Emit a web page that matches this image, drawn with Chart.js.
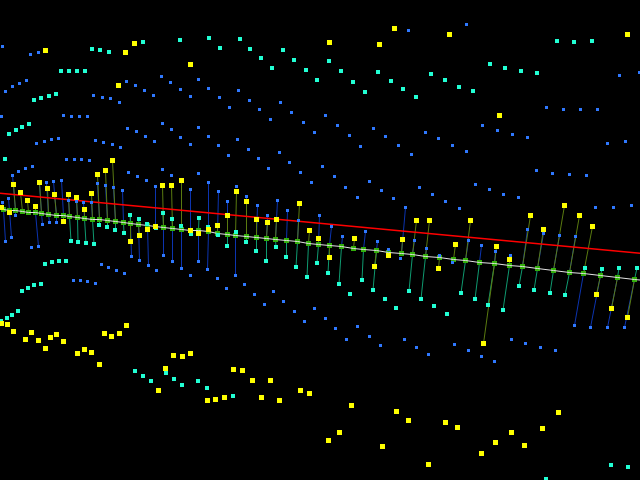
<!DOCTYPE html>
<html>
<head>
<meta charset="utf-8">
<title>3D stem scatter</title>
<style>
html, body { margin: 0; padding: 0; background: #000; }
canvas { display: block; background: #000; }
</style>
<script src="https://cdn.jsdelivr.net/npm/chart.js@4"></script>
</head>
<body>
<canvas id="chart" width="640" height="480"></canvas>
<script>
// values, [x, y]
var yellowPoints = [
    [45.5,50.5],[134.5,43.5],[125.5,52.5],[190.5,64.5],[118.5,85.5],[329.5,42.5],[379.5,44.5],[394.5,28.5],[449.5,34.5],[499.5,115.5],[627.5,34.5],
    [112.5,160.5],[105.5,170.5],[97.5,174.5],[13.5,184.5],[39.5,182.5],[47.5,188.5],[54.5,194.5],[20.5,192.5],[27.5,200.5],[35.5,206.5],[1.5,207.5],[9.5,212.5],
    [63.5,221.5],[68.5,194.5],[76.5,197.5],[91.5,193.5],[84.5,209.5],[162.5,185.5],[171.5,185.5],[181.5,180.5],[130.5,241.5],[139.5,235.5],[147.5,229.5],[155.5,226.5],
    [190.5,230.5],[198.5,233.5],[208.5,229.5],[236.5,191.5],[246.5,201.5],[227.5,215.5],[217.5,225.5],[256.5,219.5],[267.5,222.5],[276.5,219.5],[299.5,203.5],[309.5,230.5],
    [318.5,238.5],[329.5,257.5],[354.5,238.5],[374.5,266.5],[388.5,255.5],[402.5,239.5],[416.5,220.5],[429.5,220.5],[470.5,220.5],[455.5,244.5],[438.5,268.5],[496.5,246.5],
    [509.5,259.5],[530.5,215.5],[543.5,229.5],[564.5,205.5],[579.5,215.5],[592.5,226.5],[596.5,294.5],[611.5,308.5],[627.5,317.5],[483.5,343.5],
    [1.5,323.5],[7.5,324.5],[13.5,331.5],[25.5,339.5],[31.5,332.5],[38.5,340.5],[45.5,348.5],[50.5,337.5],[56.5,334.5],[63.5,341.5],[77.5,353.5],[84.5,349.5],[91.5,352.5],
    [99.5,364.5],[104.5,333.5],[111.5,336.5],[119.5,333.5],[126.5,325.5],[173.5,355.5],[182.5,356.5],[190.5,353.5],[165.5,368.5],[158.5,390.5],[207.5,400.5],[215.5,399.5],
    [224.5,397.5],[233.5,369.5],[242.5,370.5],[252.5,380.5],[270.5,380.5],[261.5,397.5],[279.5,400.5],[300.5,390.5],[309.5,393.5],[351.5,405.5],[396.5,411.5],[408.5,420.5],
    [445.5,422.5],[457.5,427.5],[339.5,432.5],[328.5,440.5],[382.5,446.5],[428.5,464.5],[481.5,453.5],[495.5,442.5],[524.5,445.5],[511.5,432.5],[542.5,428.5],[558.5,412.5]
];
var cyanPoints = [
    [92,49],[100,50],[109,52],[143,42],[180,40],[209,38],[220,48],[240,39],[250,49],[261,58],[272,68],[283,50],[294,60],[306,70],[317,80],[61,71],[69,71],[77,71],[85,71],
    [34,100],[41,98],[49,96],[56,94],[9,134],[16,130],[22,127],[29,124],[5,159],[329,61],[341,71],[353,82],[365,92],[378,72],[391,81],[403,89],[416,97],[431,74],[445,80],
    [459,87],[473,91],[490,64],[505,68],[521,71],[537,73],[557,41],[574,42],[592,41],
    [130,215],[139,219],[147,224],[156,228],[163,213],[172,219],[181,226],[191,234],[199,218],[208,227],[71,241],[78,242],[86,243],[94,244],[99,225],[107,227],[115,230],[124,233],
    [45,264],[52,262],[59,261],[66,261],[218,235],[236,232],[227,246],[246,242],[256,251],[266,261],[276,247],[286,257],[296,267],[307,277],[317,263],[328,273],[339,284],[350,294],
    [362,280],[373,290],[385,299],[409,291],[421,299],[461,293],[475,299],[488,305],[503,310],[519,286],[534,290],[550,293],[565,295],[585,268],[602,269],[619,268],[637,268],
    [434,306],[447,314],[396,308],[22,291],[28,288],[34,285],[41,284],[18,311],[12,315],[7,318],[1,321],[135,371],[143,376],[151,381],[166,373],[174,379],[182,385],[198,381],
    [207,388],[233,396],[611,465],[628,467],[546,479]
];
var bluePoints = [
    [2.5,46.5],[30.5,54.5],[38.5,52.5],[5.5,91.5],[12.5,86.5],[19.5,83.5],[26.5,80.5],[93.5,95.5],[102.5,97.5],[110.5,98.5],[119.5,102.5],[126.5,81.5],[135.5,85.5],[144.5,90.5],
    [153.5,95.5],[161.5,76.5],[170.5,82.5],[180.5,89.5],[190.5,96.5],[198.5,79.5],[208.5,88.5],[219.5,97.5],[229.5,107.5],[238.5,90.5],[249.5,100.5],[259.5,109.5],[270.5,119.5],
    [280.5,102.5],[291.5,112.5],[303.5,122.5],[314.5,132.5],[1.5,116.5],[63.5,115.5],[71.5,116.5],[79.5,116.5],[87.5,116.5],[127.5,128.5],[136.5,131.5],[145.5,136.5],[154.5,141.5],
    [162.5,123.5],[171.5,129.5],[180.5,137.5],[190.5,144.5],[198.5,127.5],[208.5,136.5],[218.5,145.5],[228.5,155.5],[237.5,139.5],[248.5,149.5],[258.5,158.5],[279.5,152.5],
    [36.5,143.5],[44.5,141.5],[51.5,139.5],[58.5,138.5],[95.5,140.5],[103.5,142.5],[112.5,144.5],[120.5,147.5],[66.5,159.5],[74.5,159.5],[81.5,159.5],[89.5,160.5],
    [408.5,30.5],[466.5,24.5],[619.5,75.5],[639.5,72.5],[325.5,115.5],[337.5,125.5],[349.5,135.5],[360.5,146.5],[373.5,128.5],[385.5,136.5],[398.5,145.5],[411.5,154.5],[425.5,132.5],
    [438.5,138.5],[452.5,145.5],[466.5,151.5],[482.5,125.5],[497.5,130.5],[512.5,134.5],[527.5,137.5],[546.5,107.5],[563.5,109.5],[580.5,109.5],[597.5,109.5],[607.5,143.5],[625.5,141.5],
    [32.5,166.5],[25.5,168.5],[18.5,171.5],[12.5,175.5],[8.5,198.5],[2.5,202.5],[15.5,215.5],[5.5,241.5],[11.5,237.5],[31.5,247.5],[38.5,246.5],[42.5,224.5],[49.5,222.5],[56.5,222.5],
    [39.5,183.5],[46.5,182.5],[53.5,181.5],[61.5,180.5],[68.5,200.5],[76.5,201.5],[83.5,202.5],[91.5,202.5],[97.5,183.5],[105.5,185.5],[113.5,187.5],[122.5,190.5],[128.5,172.5],[137.5,176.5],
    [146.5,180.5],[155.5,186.5],[162.5,169.5],[171.5,175.5],[181.5,180.5],[190.5,189.5],[198.5,173.5],[208.5,182.5],[131.5,256.5],[139.5,260.5],[148.5,265.5],[156.5,270.5],[163.5,255.5],
    [172.5,261.5],[181.5,268.5],[190.5,275.5],[198.5,261.5],[207.5,269.5],[101.5,264.5],[108.5,267.5],[116.5,270.5],[124.5,273.5],[73.5,280.5],[80.5,280.5],[87.5,281.5],[95.5,283.5],
    [218.5,191.5],[227.5,201.5],[236.5,186.5],[246.5,196.5],[257.5,205.5],[267.5,215.5],[277.5,200.5],[287.5,210.5],[298.5,220.5],[319.5,215.5],[331.5,226.5],[342.5,236.5],[365.5,231.5],
    [377.5,241.5],[388.5,249.5],[400.5,258.5],[405.5,207.5],[414.5,240.5],[426.5,248.5],[268.5,168.5],[289.5,162.5],[300.5,172.5],[311.5,182.5],[322.5,166.5],[334.5,176.5],[345.5,187.5],
    [357.5,197.5],[369.5,181.5],[381.5,190.5],[393.5,198.5],[419.5,187.5],[217.5,278.5],[226.5,288.5],[235.5,275.5],[244.5,284.5],[254.5,294.5],[273.5,291.5],[264.5,304.5],[283.5,301.5],
    [294.5,311.5],[304.5,321.5],[314.5,308.5],[432.5,194.5],[445.5,201.5],[459.5,208.5],[475.5,184.5],[489.5,189.5],[503.5,194.5],[518.5,197.5],[536.5,170.5],[552.5,173.5],[569.5,174.5],
    [586.5,175.5],[595.5,207.5],[613.5,207.5],[631.5,205.5],[439.5,255.5],[452.5,262.5],[468.5,240.5],[481.5,245.5],[495.5,251.5],[510.5,255.5],[527.5,229.5],[543.5,233.5],[559.5,235.5],
    [575.5,236.5],[574.5,325.5],[590.5,327.5],[607.5,327.5],[624.5,327.5],[511.5,339.5],[525.5,343.5],[540.5,347.5],[555.5,350.5],[325.5,318.5],[335.5,328.5],[346.5,339.5],[357.5,326.5],
    [369.5,336.5],[380.5,345.5],[404.5,339.5],[416.5,347.5],[428.5,354.5],[454.5,344.5],[468.5,350.5],[481.5,356.5],[494.5,361.5]
];

// green squares along the white line
var baseX = [3.5,9.5,15.5,22.5,28.5,35.5,41.5,48.5,56.5,63.5,69.5,77.5,84.5,92.5,99.5,107.5,115.5,123.5,130.5,138.5,147.5,155.5,163.5,172.5,181.5,190.5,198.5,208.5,
    217.5,227.5,235.5,246.5,256.5,266.5,275.5,286.5,297.5,308.5,318.5,329.5,341.5,353.5,363.5,376.5,388.5,401.5,412.5,425.5,439.5,453.5,465.5,479.5,494.5,509.5,522.5,537.5,553.5,569.5,583.5,600.5,617.5,634.5];
var baseY = [209.5,210.5,210.5,211.5,212.5,212.5,213.5,214.5,215.5,215.5,216.5,217.5,218.5,219.5,219.5,220.5,221.5,222.5,223.5,224.5,225.5,226.5,227.5,228.5,229.5,230.5,230.5,231.5,
    233.5,234.5,235.5,236.5,237.5,238.5,239.5,240.5,241.5,243.5,244.5,245.5,246.5,248.5,249.5,250.5,252.5,253.5,254.5,256.5,257.5,259.5,260.5,262.5,263.5,265.5,266.5,268.5,270.5,272.5,273.5,275.5,277.5,279.5];

var whiteEnds = [[0,209],[640,280]];
var redX = [0,213,426,640];
var redY = [193.3,213.3,233.3,253.3];

// stems: marker x, marker y, x of the green square they hang from
var yellowStems = [
    [1.5,207.5,3.5],[9.5,212.5,9.5],[13.5,184.5,15.5],[20.5,192.5,22.5],[27.5,200.5,28.5],[35.5,206.5,35.5],[39.5,182.5,41.5],[47.5,188.5,48.5],[54.5,194.5,56.5],[63.5,221.5,63.5],
    [68.5,194.5,69.5],[76.5,197.5,77.5],[84.5,209.5,84.5],[91.5,193.5,92.5],[97.5,174.5,99.5],[105.5,170.5,107.5],[112.5,160.5,115.5],[130.5,241.5,130.5],[139.5,235.5,138.5],[147.5,229.5,147.5],
    [155.5,226.5,155.5],[162.5,185.5,163.5],[171.5,185.5,172.5],[181.5,180.5,181.5],[190.5,230.5,190.5],[198.5,233.5,198.5],[208.5,229.5,208.5],[217.5,225.5,217.5],[227.5,215.5,227.5],
    [236.5,191.5,235.5],[246.5,201.5,246.5],[256.5,219.5,256.5],[267.5,222.5,266.5],[276.5,219.5,275.5],[299.5,203.5,297.5],[309.5,230.5,308.5],[318.5,238.5,318.5],[329.5,257.5,329.5],
    [354.5,238.5,353.5],[374.5,266.5,376.5],[388.5,255.5,388.5],[402.5,239.5,401.5],[416.5,220.5,412.5],[429.5,220.5,425.5],[438.5,268.5,439.5],[455.5,244.5,453.5],[470.5,220.5,465.5],
    [483.5,343.5,494.5],[496.5,246.5,494.5],[509.5,259.5,509.5],[530.5,215.5,522.5],[543.5,229.5,537.5],[564.5,205.5,553.5],[579.5,215.5,569.5],[592.5,226.5,583.5],[596.5,294.5,600.5],
    [611.5,308.5,617.5],[627.5,317.5,634.5]
];
var cyanStems = [
    [71,241,69.5],[78,242,77.5],[86,243,84.5],[94,244,92.5],[99,225,99.5],[107,227,107.5],[115,230,115.5],[124,233,123.5],[130,215,130.5],[139,219,138.5],[147,224,147.5],[156,228,155.5],
    [163,213,163.5],[172,219,172.5],[181,226,181.5],[191,234,190.5],[199,218,198.5],[208,227,208.5],[218,235,217.5],[227,246,227.5],[236,232,235.5],[246,242,246.5],[256,251,256.5],[266,261,266.5],
    [276,247,275.5],[286,257,286.5],[296,267,297.5],[307,277,308.5],[317,263,318.5],[328,273,329.5],[339,284,341.5],[362,280,363.5],[373,290,376.5],[409,291,412.5],[421,299,425.5],[461,293,465.5],
    [475,299,479.5],[488,305,494.5],[503,310,509.5],[519,286,522.5],[534,290,537.5],[550,293,553.5],[565,295,569.5],[585,268,583.5],[602,269,600.5],[619,268,617.5],[637,268,634.5]
];
var blueStems = [
    [2.5,202.5,3.5],[8.5,198.5,9.5],[12.5,175.5,15.5],[5.5,241.5,3.5],[11.5,237.5,9.5],[15.5,215.5,15.5],[38.5,246.5,35.5],[42.5,224.5,41.5],[49.5,222.5,48.5],[56.5,222.5,56.5],[39.5,183.5,41.5],
    [46.5,182.5,48.5],[53.5,181.5,56.5],[61.5,180.5,63.5],[68.5,200.5,69.5],[76.5,201.5,77.5],[83.5,202.5,84.5],[91.5,202.5,92.5],[97.5,183.5,99.5],[105.5,185.5,107.5],[113.5,187.5,115.5],
    [122.5,190.5,123.5],[155.5,186.5,155.5],[190.5,189.5,190.5],[208.5,182.5,208.5],[131.5,256.5,130.5],[139.5,260.5,138.5],[148.5,265.5,147.5],[163.5,255.5,163.5],[172.5,261.5,172.5],
    [181.5,268.5,181.5],[198.5,261.5,198.5],[207.5,269.5,208.5],[218.5,191.5,217.5],[227.5,201.5,227.5],[235.5,275.5,235.5],[246.5,196.5,246.5],[257.5,205.5,256.5],[267.5,215.5,266.5],
    [277.5,200.5,275.5],[287.5,210.5,286.5],[298.5,220.5,297.5],[319.5,215.5,318.5],[331.5,226.5,329.5],[342.5,236.5,341.5],[365.5,231.5,363.5],[377.5,241.5,376.5],[405.5,207.5,401.5],
    [414.5,240.5,412.5],[426.5,248.5,425.5],[468.5,240.5,465.5],[481.5,245.5,479.5],[495.5,251.5,494.5],[510.5,255.5,509.5],[527.5,229.5,522.5],[543.5,233.5,537.5],[559.5,235.5,553.5],
    [575.5,236.5,569.5],[574.5,325.5,583.5],[590.5,327.5,600.5],[607.5,327.5,617.5],[624.5,327.5,634.5]
];

function toXY(list) {
    return list.map(function (p) { return { x: p[0], y: p[1] }; });
}

// each stem is marker -> base, a null y breaks the line between stems
function stemLine(list) {
    var out = [];
    list.forEach(function (s) {
        out.push({ x: s[0], y: s[1] });
        out.push({ x: s[2], y: baseY[baseX.indexOf(s[2])] });
        out.push({ x: s[2], y: null });
    });
    return out;
}

function squares(data, color, side) {
    // chart.js rect point has a side of radius * sqrt(2)
    return { data: data, showLine: false, pointStyle: 'rect', pointRadius: side / Math.SQRT2, pointHoverRadius: side / Math.SQRT2, pointBackgroundColor: color, pointBorderWidth: 0 };
}

function line(data, color, width) {
    return { data: data, showLine: true, borderColor: color, borderWidth: width || 1, pointRadius: 0, spanGaps: false, tension: 0 };
}

var baseXY = baseX.map(function (x, i) { return { x: x, y: baseY[i] }; });
var whiteXY = toXY([whiteEnds[0]]).concat(baseXY, toXY([whiteEnds[1]]));
var redXY = redX.map(function (x, i) { return { x: x, y: redY[i] }; });

// first dataset ends up on top
new Chart(document.getElementById('chart').getContext('2d'), {
    type: 'scatter',
    data: {
        datasets: [
            squares(toXY(yellowPoints), '#ffff00', 5),
            squares(toXY(cyanPoints), '#22ffd4', 4),
            squares(toXY(bluePoints), '#2f78ff', 3),
            line(redXY, '#ff0000', 1.4),
            line(whiteXY, '#e4e4e4'),
            squares(baseXY, '#32ae0a', 5),
            line(stemLine(yellowStems), '#5a7a10'),
            line(stemLine(cyanStems), '#0f9a70'),
            line(stemLine(blueStems), '#0c34b0')
        ]
    },
    options: {
        responsive: false,
        animation: false,
        events: [],
        layout: { padding: 0, autoPadding: false },
        plugins: { legend: { display: false }, tooltip: { enabled: false }, title: { display: false } },
        scales: {
            x: { type: 'linear', display: false, min: 0, max: 640 },
            y: { type: 'linear', display: false, min: 0, max: 480, reverse: true }
        }
    }
});
</script>
</body>
</html>
